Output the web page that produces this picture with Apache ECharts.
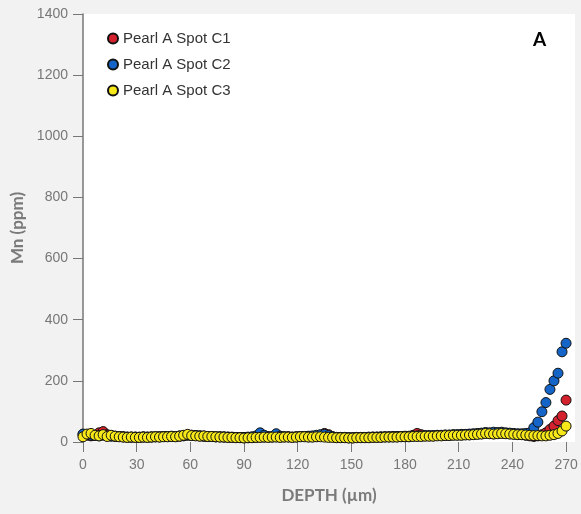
<!DOCTYPE html>
<html>
<head>
<meta charset="utf-8">
<script src="https://cdn.jsdelivr.net/npm/echarts@6/dist/echarts.min.js"></script>
<style>
  html, body { margin: 0; padding: 0; background: #f2f2f2; }
  #main { width: 581px; height: 514px; }
</style>
</head>
<body>
<div id="main"></div>
<script>
// depth (µm) shared by the three spots
var depth = [0,2.25,4.5,6.75,9,11.25,13.5,15.75,18,20.25,22.5,24.75,27,29.25,31.5,33.75,36,38.25,40.5,42.75,
  45,47.25,49.5,51.75,54,56.25,58.5,60.75,63,65.25,67.5,69.75,72,74.25,76.5,78.75,81,83.25,85.5,87.75,
  90,92.25,94.5,96.75,99,101.25,103.5,105.75,108,110.25,112.5,114.75,117,119.25,121.5,123.75,126,128.25,130.5,132.75,
  135,137.25,139.5,141.75,144,146.25,148.5,150.75,153,155.25,157.5,159.75,162,164.25,166.5,168.75,171,173.25,175.5,177.75,
  180,182.25,184.5,186.75,189,191.25,193.5,195.75,198,200.25,202.5,204.75,207,209.25,211.5,213.75,216,218.25,220.5,222.75,
  225,227.25,229.5,231.75,234,236.25,238.5,240.75,243,245.25,247.5,249.75,252,254.25,256.5,258.75,261,263.25,265.5,267.75,270];

var spotC1 = [24,22,20,21,30,34,24,20,19,18, 17,16,16,16,15,16,16,16,17,17,
  18,18,18,18,19,20,22,22,21,20, 19,18,18,17,17,16,16,15,15,15,
  14,14,15,15,16,16,16,16,17,16, 17,17,16,17,18,18,17,17,18,20,
  28,24,17,15,15,15,14,14,15,15, 15,15,16,16,16,17,17,17,17,18,
  18,18,22,28,24,20,20,20,21,21, 22,22,23,23,23,24,24,25,26,27,
  29,28,27,28,29,28,27,26,25,24, 22,20,18,20,24,30,41,52,70,85,137];

var spotC2 = [26,24,22,21,20,22,20,19,18,18, 17,16,16,16,16,17,16,17,17,17,
  18,18,19,18,20,21,23,22,21,20, 19,18,18,17,17,17,16,16,15,15,
  15,16,17,20,30,22,18,18,27,19, 17,17,16,17,18,18,19,20,22,24,
  25,21,17,15,15,15,14,14,15,15, 15,16,16,16,17,17,17,18,18,18,
  19,19,20,20,20,21,21,21,22,22, 23,23,24,24,25,25,26,27,28,29,
  31,30,32,31,32,30,29,28,27,27, 28,30,47,65,99,129,172,200,225,295,323];

var spotC3 = [17,26,28,22,20,24,18,22,19,17, 16,15,16,15,15,16,15,16,17,16,
  17,17,18,17,19,22,25,21,20,19, 20,18,18,17,16,16,15,15,14,14,
  13,14,14,15,15,16,15,16,16,15, 16,16,15,16,17,17,16,16,17,17,
  16,15,15,14,14,14,13,13,14,14, 14,14,15,15,15,16,16,16,16,17,
  17,17,18,18,18,19,19,19,20,20, 21,21,22,22,22,23,23,24,25,26,
  28,27,26,27,28,27,26,25,24,24, 23,22,21,21,20,20,22,24,28,36,52];

var names = ['Pearl A Spot C1', 'Pearl A Spot C2', 'Pearl A Spot C3'];
var colors = ['#d3212d', '#1565c8', '#f7e81a'];

function pairs(vals) {
  var out = [];
  for (var i = 0; i < vals.length; i++) out.push([depth[i], vals[i]]);
  return out;
}

var chart = echarts.init(document.getElementById('main'));
var allVals = [spotC1, spotC2, spotC3];
var series = [];
for (var k = 0; k < 3; k++) {
  series.push({
    name: names[k],
    type: 'scatter',
    symbol: 'circle',
    symbolSize: 10,
    itemStyle: { color: colors[k], borderColor: '#111', borderWidth: 1, opacity: 1 },
    data: pairs(allVals[k])
  });
}

chart.setOption({
  backgroundColor: '#f2f2f2',
  animation: false,
  grid: {
    left: 83, right: 6, top: 14, bottom: 72,
    show: true, backgroundColor: '#ffffff', borderWidth: 0
  },
  legend: {
    orient: 'vertical',
    left: 107, top: 31, padding: 0,
    itemWidth: 10, itemHeight: 10, itemGap: 11,
    icon: 'circle',
    textStyle: { fontFamily: 'Liberation Sans', fontSize: 15, color: '#333' },
    data: names
  },
  graphic: [{
    type: 'text', left: 533, top: 30,
    style: { text: 'A', font: 'bold 19px Lato', fill: '#000' }
  }],
  xAxis: {
    type: 'value', min: 0, max: 275, interval: 30,
    name: 'DEPTH (µm)', nameLocation: 'middle', nameGap: 45,
    nameTextStyle: { fontFamily: 'Lato', fontWeight: 'bold', fontSize: 17, color: '#7a7a7a' },
    axisLine: { show: false },
    axisTick: { show: true, inside: false, length: 10, lineStyle: { color: '#777' } },
    axisLabel: { showMaxLabel: false, margin: 16, fontFamily: 'Liberation Sans', fontSize: 14, color: '#777' },
    splitLine: { show: false }
  },
  yAxis: {
    type: 'value', min: 0, max: 1400, interval: 200,
    name: 'Mn (ppm)', nameLocation: 'middle', nameGap: 55, nameRotate: 90,
    nameTextStyle: { fontFamily: 'Lato', fontWeight: 'bold', fontSize: 17, color: '#7a7a7a' },
    axisLine: { show: true, lineStyle: { color: '#777', width: 1.5 } },
    axisTick: { show: true, inside: false, length: 10, lineStyle: { color: '#777' } },
    axisLabel: {
      margin: 15, fontFamily: 'Liberation Sans', fontSize: 14, color: '#777',
      formatter: function (v) { return String(v); }
    },
    splitLine: { show: false }
  },
  series: series
});
</script>
</body>
</html>
